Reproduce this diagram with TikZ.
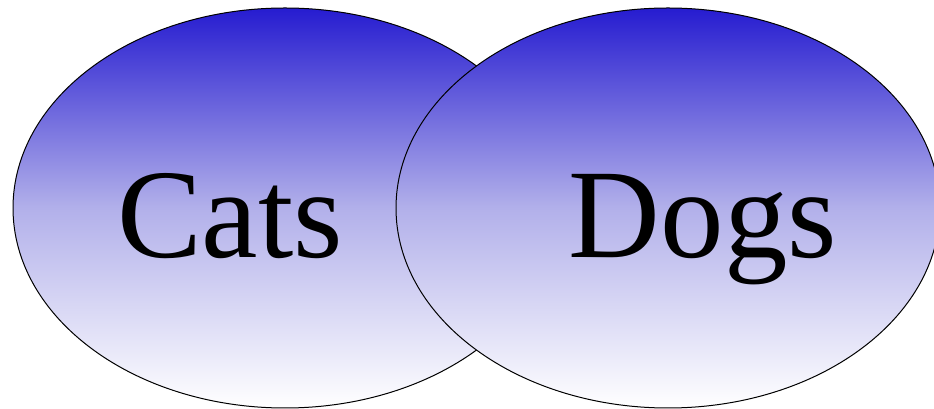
\documentclass[tikz,border=0pt]{standalone}
\usepackage{fontspec}
\setmainfont{Liberation Serif}
\usetikzlibrary{shapes.geometric}
\definecolor{vennblue}{RGB}{38,28,208}
\definecolor{vennmid}{RGB}{178,176,234}
\tikzset{
  setellipse/.style={ellipse, draw=black, line width=1pt, minimum width=544pt, minimum height=400pt, inner sep=0pt, top color=vennblue, bottom color=white, middle color=vennmid},
  setlabel/.style={anchor=base, inner sep=0pt, font=\fontsize{127}{130}\selectfont}
}
\begin{document}
\begin{tikzpicture}[x=1pt,y=1pt]
\useasboundingbox (0,0) rectangle (934,409);
\node[setellipse] (cats) at (285,201) {};
\node[setellipse] (dogs) at (668,201) {};
\node[setlabel] (catslabel) at (230,151) {Cats};
\node[setlabel] (dogslabel) at (703,151) {Dogs};
\end{tikzpicture}
\end{document}
